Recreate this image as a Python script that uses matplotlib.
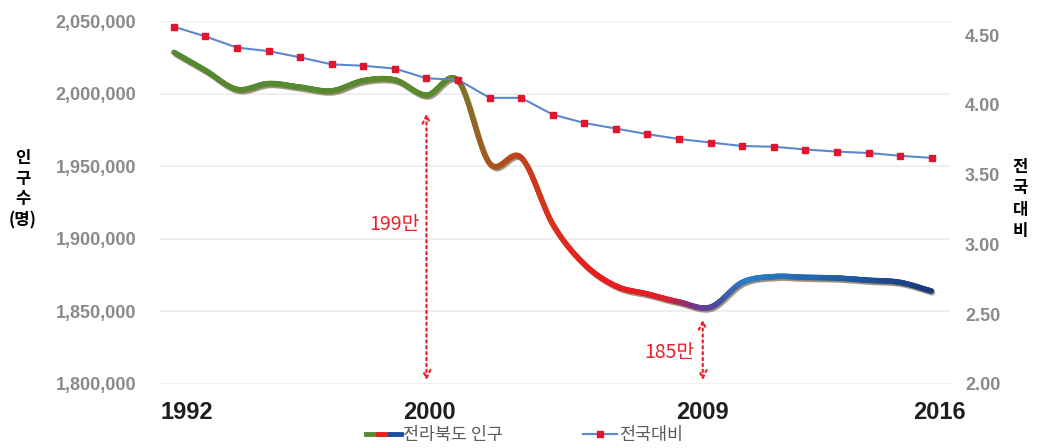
import numpy as np
import matplotlib.pyplot as plt
from matplotlib.collections import LineCollection
from matplotlib.colors import LinearSegmentedColormap
from matplotlib.lines import Line2D
from matplotlib.legend_handler import HandlerTuple
import matplotlib.patheffects as pe
import matplotlib.transforms as mtransforms

plt.rcParams['font.family'] = ['Liberation Sans', 'Noto Sans CJK KR', 'DejaVu Sans']

years = np.arange(1992, 2017)
# 전라북도 인구 (명)
population = [2028500, 2016000, 2003000, 2007000, 2004500, 2002000, 2009000, 2009500,
              1999000, 2009000, 1952000, 1956000, 1910000, 1882500, 1867500, 1862000,
              1856500, 1853000, 1870000, 1874000, 1873500, 1873000, 1871500, 1870000,
              1864000]
# 전국대비 (%)
ratio = [4.56, 4.49, 4.41, 4.385, 4.34, 4.29, 4.28, 4.26, 4.19, 4.18, 4.05, 4.05, 3.93,
         3.87, 3.83, 3.79, 3.755, 3.73, 3.705, 3.70, 3.68, 3.665, 3.655, 3.635, 3.62]

year_ticks = [1992, 2000, 2009, 2016]
left_ticks = [1800000, 1850000, 1900000, 1950000, 2000000, 2050000]
right_ticks = [2.0, 2.5, 3.0, 3.5, 4.0, 4.5]

# colour stops along the population line (year, colour)
grad_stops = [(1992, '#55882f'), (2000.5, '#5a8a30'), (2002, '#a8561f'), (2003.8, '#d7321c'),
              (2005.5, '#ea1c1c'), (2007.6, '#e01f2a'), (2008.5, '#7a3588'), (2009.2, '#4b4ba2'),
              (2010.2, '#2a7fc8'), (2016, '#1b3a7c')]


def smooth(x, y, n=30):
    # catmull-rom curve through the yearly points (like excel's smoothed line)
    x = np.asarray(x, float)
    y = np.asarray(y, float)
    px = np.concatenate([[2 * x[0] - x[1]], x, [2 * x[-1] - x[-2]]])
    py = np.concatenate([[2 * y[0] - y[1]], y, [2 * y[-1] - y[-2]]])
    xs, ys = [], []
    t = np.linspace(0, 1, n, endpoint=False)
    for i in range(1, len(px) - 2):
        for p, out in ((px, xs), (py, ys)):
            p0, p1, p2, p3 = p[i - 1], p[i], p[i + 1], p[i + 2]
            out.extend(0.5 * (2 * p1 + (-p0 + p2) * t + (2 * p0 - 5 * p1 + 4 * p2 - p3) * t ** 2
                              + (-p0 + 3 * p1 - 3 * p2 + p3) * t ** 3))
    xs.append(x[-1])
    ys.append(y[-1])
    return np.array(xs), np.array(ys)


fig = plt.figure(figsize=(10.39, 4.48), dpi=100)
ax = fig.add_axes([0.154, 0.1429, 0.760, 0.810])
ax2 = ax.twinx()

ax.set_xlim(1991.56, 2016.57)
ax.set_ylim(1800000, 2050000)
ax2.set_ylim(2.0, 4.6)

ax.set_yticks(left_ticks)
ax.set_yticklabels(['{:,}'.format(v) for v in left_ticks])
ax2.set_yticks(right_ticks)
ax2.set_yticklabels(['%.2f' % v for v in right_ticks])
ax.grid(axis='y', color='#ececec', linewidth=1.2)
ax.set_axisbelow(True)
for a in (ax, ax2):
    for s in a.spines.values():
        s.set_visible(False)
ax.tick_params(axis='y', length=0, pad=17, labelsize=13, labelcolor='#8a8a8a')
ax2.tick_params(axis='y', length=0, pad=11, labelsize=13, labelcolor='#8a8a8a')
for lab in ax.get_yticklabels() + ax2.get_yticklabels():
    lab.set_fontweight('bold')

ax.set_xticks(year_ticks)
ax.set_xticklabels([str(y) for y in year_ticks], fontsize=17, fontweight='bold', color='#1e1e1e')
ax.tick_params(axis='x', length=0, pad=12)
shifts = [13, 3, -8, 8]
for lab, dx in zip(ax.get_xticklabels(), shifts):
    lab.set_transform(lab.get_transform() + mtransforms.ScaledTranslation(dx / 100, 0, fig.dpi_scale_trans))

# population line with colour gradient
sx, sy = smooth(years, population)
pts = np.column_stack([sx, sy]).reshape(-1, 1, 2)
segs = np.concatenate([pts[:-1], pts[1:]], axis=1)
cmap = LinearSegmentedColormap.from_list(
    'grad', [((yr - 1992) / 24, c) for yr, c in grad_stops])
lc = LineCollection(segs, colors=cmap((sx[:-1] - 1992) / 24), linewidths=3.9, capstyle='round',
                    joinstyle='round', zorder=3)
lc.set_path_effects([pe.SimpleLineShadow(offset=(1, -1.5), shadow_color='#8a7a60', alpha=0.3),
                     pe.Normal()])
ax.add_collection(lc)

# ratio line
ax2.plot(years, ratio, color='#5b87cf', linewidth=1.5, marker='s', markersize=5,
         markerfacecolor='#e3142e', markeredgecolor='#e3142e', zorder=4)

# annotations
red = '#e8202a'
ax.annotate('', xy=(2000, 1986500), xytext=(2000, 1802500),
            arrowprops=dict(arrowstyle='<->', linestyle=':', color=red, lw=1.6,
                            mutation_scale=14, shrinkA=0, shrinkB=0))
ax.text(1999.0, 1910000, '199만', color=red, fontsize=14, ha='center', va='center',
        family=['Noto Sans CJK KR'])
ax.annotate('', xy=(2008.75, 1844500), xytext=(2008.75, 1802500),
            arrowprops=dict(arrowstyle='<->', linestyle=':', color=red, lw=1.6,
                            mutation_scale=14, shrinkA=0, shrinkB=0))
ax.text(2007.7, 1822000, '185만', color=red, fontsize=14, ha='center', va='center',
        family=['Noto Sans CJK KR'])

# axis titles, stacked characters
fig.text(0.022, 0.578, '인\n구\n수\n(명)', ha='center', va='center', fontsize=12,
         fontweight='bold', linespacing=1.2, family=['Noto Sans CJK KR', 'DejaVu Sans'])
fig.text(0.982, 0.556, '전\n국\n대\n비', ha='center', va='center', fontsize=12,
         fontweight='bold', linespacing=1.25, family=['Noto Sans CJK KR', 'DejaVu Sans'])

# legend
h1 = (Line2D([], [], color='#55882f', lw=3.5), Line2D([], [], color='#e8201c', lw=3.5),
      Line2D([], [], color='#1b4fa0', lw=3.5))
h2 = Line2D([], [], color='#5b87cf', lw=1.5, marker='s', markersize=5,
            markerfacecolor='#e3142e', markeredgecolor='#e3142e')
fig.legend([h1, h2], ['전라북도 인구', '전국대비'], loc='center', bbox_to_anchor=(0.505, 0.028),
           ncol=2, frameon=False, handler_map={tuple: HandlerTuple(ndivide=None, pad=0)},
           prop={'family': ['Noto Sans CJK KR'], 'size': 12.5}, labelcolor='#5a5a5a',
           handlelength=2.0, handletextpad=0.1, columnspacing=4.6, borderpad=0)

fig.savefig('out.png', dpi=100)
